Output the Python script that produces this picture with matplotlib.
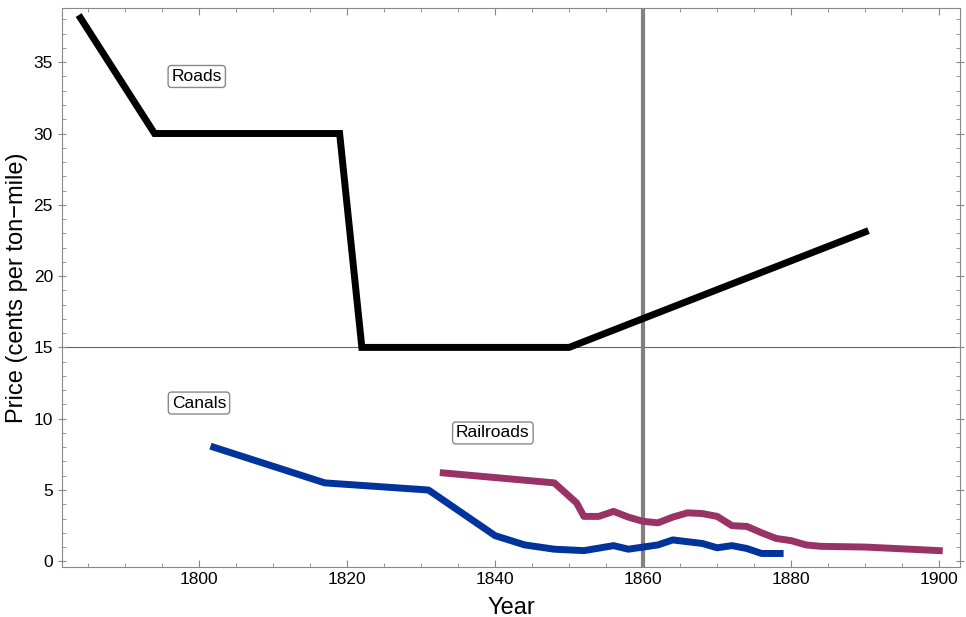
import matplotlib.pyplot as plt
from matplotlib.ticker import MultipleLocator

plt.rcParams['font.family'] = ['Liberation Sans', 'DejaVu Sans']

# data
road_years = [1784, 1794, 1819, 1822, 1850, 1890]
road_price = [38.1, 30, 30, 15, 15, 23.1]

canal_years = [1802, 1817, 1831, 1840, 1844, 1848, 1852, 1856, 1858, 1860, 1862, 1864,
               1868, 1870, 1872, 1874, 1876, 1878.5]
canal_price = [8.0, 5.5, 5.0, 1.8, 1.15, 0.85, 0.75, 1.1, 0.85, 1.0, 1.15, 1.5,
               1.25, 0.95, 1.1, 0.9, 0.55, 0.55]

rail_years = [1833, 1848, 1851, 1852, 1854, 1856, 1858, 1860, 1862, 1864, 1866, 1868,
              1870, 1872, 1874, 1876, 1878, 1880, 1882, 1884, 1890, 1900]
rail_price = [6.2, 5.5, 4.1, 3.15, 3.15, 3.5, 3.1, 2.8, 2.7, 3.1, 3.4, 3.35,
              3.15, 2.5, 2.45, 2.0, 1.6, 1.45, 1.15, 1.05, 1.0, 0.75]

labels = ['Roads', 'Canals', 'Railroads']
label_pos = [(1799.7, 34.0), (1800, 11.1), (1839.7, 9.0)]

fig = plt.figure(figsize=(9.66, 6.17), dpi=100)
ax = fig.add_axes([0.0642, 0.081, 0.9296, 0.906])

ax.axhline(15, color='#666666', lw=0.8, zorder=1)
ax.axvline(1860, color='#808080', lw=3, zorder=1)

ax.plot(road_years, road_price, color='black', lw=5, solid_joinstyle='miter', zorder=3)
ax.plot(canal_years, canal_price, color='#00339c', lw=5, zorder=3)
ax.plot(rail_years, rail_price, color='#993366', lw=5, zorder=3)

for text, (x, y) in zip(labels, label_pos):
    ax.text(x, y, text, fontsize=12.5, ha='center', va='center', zorder=4,
            bbox=dict(boxstyle='round,pad=0.2,rounding_size=0.2', fc='white', ec='#888888', lw=1))

ax.set_xlim(1781.5, 1902.8)
ax.set_ylim(-0.4, 38.8)
ax.xaxis.set_major_locator(MultipleLocator(20))
ax.xaxis.set_minor_locator(MultipleLocator(5))
ax.yaxis.set_major_locator(MultipleLocator(5))
ax.yaxis.set_minor_locator(MultipleLocator(1))
ax.tick_params(which='both', direction='in', top=True, right=True, color='#888888', labelsize=12.5)
ax.tick_params(which='major', length=5)
ax.tick_params(which='minor', length=3)
ax.tick_params(axis='y', which='major', direction='inout', length=6)
for s in ax.spines.values():
    s.set_color('#888888')

ax.set_xlabel('Year', fontsize=17, labelpad=7)
ax.set_ylabel('Price (cents per ton\u2212mile)', fontsize=17, labelpad=4)

fig.savefig('out.png', dpi=100)
